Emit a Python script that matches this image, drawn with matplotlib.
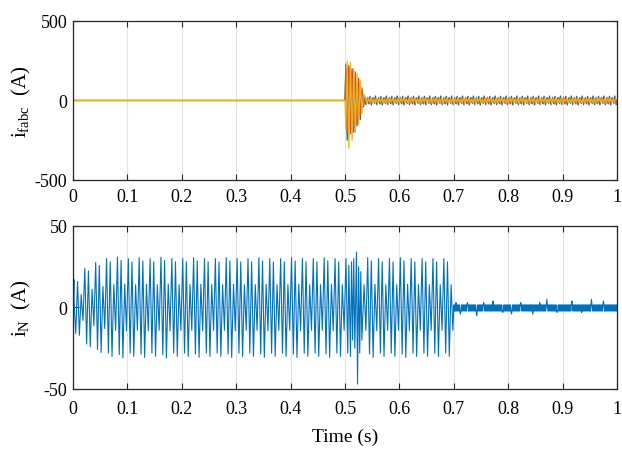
import numpy as np
import matplotlib.pyplot as plt

plt.rcParams['font.family'] = ['Liberation Serif', 'DejaVu Serif']
plt.rcParams['mathtext.fontset'] = 'custom'
plt.rcParams['mathtext.rm'] = 'Liberation Serif'
plt.rcParams['mathtext.it'] = 'Liberation Serif:italic'

# ---------------- data ----------------
x_ticks = [0, 0.1, 0.2, 0.3, 0.4, 0.5, 0.6, 0.7, 0.8, 0.9, 1]
x_tick_labels = ['0', '0.1', '0.2', '0.3', '0.4', '0.5', '0.6', '0.7', '0.8', '0.9', '1']
top_yticks = [-500, 0, 500]
bot_yticks = [-50, 0, 50]

# filter currents: zero until 0.5 s, then a short transient (peaks, A)
tr_t = [0.5015, 0.504, 0.507, 0.510, 0.513, 0.516, 0.519, 0.522, 0.525, 0.528, 0.531, 0.534]
tr_a = [200, -250, 210, -180, 190, -200, 150, -160, 120, -120, 60, -40]
tr_b = [230, -200, 220, -210, 200, -180, 180, -150, 140, -100, 80, -30]
tr_c = [-180, 250, -300, 240, -250, 200, -200, 170, -150, 130, -80, 40]
# steady ripple after the transient, peaks of one 20 ms cycle per phase (A)
rip_a = [28, -26, 10, -18, 26, -28, 16, -10]
rip_b = [12, -16, 20, -22, 10, -14, 18, -20]
rip_c = [14, -18, 12, -8, 16, -14, 8, -12]

# neutral current: peaks of one 20 ms cycle (A)
in_cycle = [30, -28, 28, -30, 14, -14]
# relative size of each 20 ms cycle from 0 to 0.7 s
in_envelope = [0.57, 0.8, 0.92, 1.0, 1.03, 1.0, 1.02, 1.0, 1.03, 1.0,
               1.0, 1.02, 1.0, 1.0, 1.02, 1.0, 1.0, 1.02, 1.0, 1.0,
               1.02, 1.0, 1.0, 1.02, 1.0, 1.0, 1.0, 1.02, 1.0, 1.0,
               1.02, 1.0, 1.0, 1.0, 1.0]
# disturbance around 0.52 s
in_fault_t = [0.507, 0.510, 0.512, 0.514, 0.516, 0.518, 0.521, 0.523, 0.525, 0.527, 0.529, 0.531]
in_fault_v = [26, -30, 28, -20, 30, -25, 34, -47, 25, -28, 22, -20]
# after 0.7 s: narrow residual band plus small spikes
in_band = [1.6, -2.2]
in_spike_t = [0.704, 0.712, 0.725, 0.742, 0.755, 0.772, 0.790, 0.806, 0.823,
              0.845, 0.858, 0.871, 0.890, 0.917, 0.935, 0.953, 0.975]
in_spike_v = [3, -4, 3, -5, 3, 4, -3, -4, 3, -4, 3, 5, -3, 4, -3, 5, 4]

colors = ['#0072BD', '#D95319', '#EDB120']


def phase_series(tr_v, rip, offset):
    t = [0.0, 0.5] + tr_t
    v = [0.0, 0.0] + tr_v
    start = tr_t[-1] + 0.002 + offset
    n = int((1.0 - start) / 0.0025) + 1
    t_r = start + 0.0025 * np.arange(n)
    v_r = np.tile(rip, n // len(rip) + 1)[:n]
    return np.concatenate([t, t_r]), np.concatenate([v, v_r])


def neutral_series():
    n_cyc = len(in_envelope)
    k = len(in_cycle)
    t = (np.arange(n_cyc * k) + 0.5) * 0.02 / k
    v = np.repeat(in_envelope, k) * np.tile(in_cycle, n_cyc)
    keep = (t < in_fault_t[0] - 0.001) | (t > in_fault_t[-1] + 0.001)
    t = np.concatenate([[0.0, 0.002], t[keep], in_fault_t])
    v = np.concatenate([[0.0, 3.0], v[keep], in_fault_v])
    order = np.argsort(t)
    t, v = t[order], v[order]
    # residual after the compensator takes over
    t_b = 0.7 + 0.001 * np.arange(301)
    v_b = np.tile(in_band, 151)[:301].astype(float)
    for ts, vs in zip(in_spike_t, in_spike_v):
        v_b[np.argmin(np.abs(t_b - ts))] = vs
    return np.concatenate([t, t_b]), np.concatenate([v, v_b])


fig = plt.figure(figsize=(6.22, 4.52), dpi=100)
ax1 = fig.add_axes([0.1174, 0.5996, 0.8746, 0.3518])
ax2 = fig.add_axes([0.1174, 0.1372, 0.8746, 0.3606])

for tr_v, rip, off, c in zip([tr_a, tr_b, tr_c], [rip_a, rip_b, rip_c],
                             [0.0, 0.0008, 0.0016], colors):
    t, v = phase_series(tr_v, rip, off)
    ax1.plot(t, v, color=c, lw=0.9)

t_n, v_n = neutral_series()
ax2.plot(t_n, v_n, color=colors[0], lw=0.8)

for ax, yt in [(ax1, top_yticks), (ax2, bot_yticks)]:
    ax.set_xlim(0, 1)
    ax.set_ylim(yt[0], yt[-1])
    ax.set_xticks(x_ticks)
    ax.set_xticklabels(x_tick_labels)
    ax.set_yticks(yt)
    ax.set_yticklabels([str(y) for y in yt])
    ax.grid(True, color='#e3e3e3', lw=0.8)
    ax.set_axisbelow(True)
    ax.tick_params(direction='in', top=True, right=True, length=4, width=0.8,
                   labelsize=13, colors='#262626', labelcolor='black')
    ax.tick_params(axis='y', pad=4)
    for s in ax.spines.values():
        s.set_color('#262626')
        s.set_linewidth(0.9)

ax1.tick_params(axis='x', pad=6)
ax2.tick_params(axis='x', pad=8)

ax1.set_ylabel(r'$\mathrm{i}_{\mathrm{fabc}}$  (A)', fontsize=15)
ax2.set_ylabel(r'$\mathrm{i}_{\mathrm{N}}$  (A)', fontsize=15)
ax1.yaxis.set_label_coords(-0.074, 0.5)
ax2.yaxis.set_label_coords(-0.074, 0.5)

ax2.set_xlabel('Time (s)', fontsize=14, va='top')
ax2.xaxis.set_label_coords(0.5, -0.24)

fig.savefig('out.png', dpi=100)
